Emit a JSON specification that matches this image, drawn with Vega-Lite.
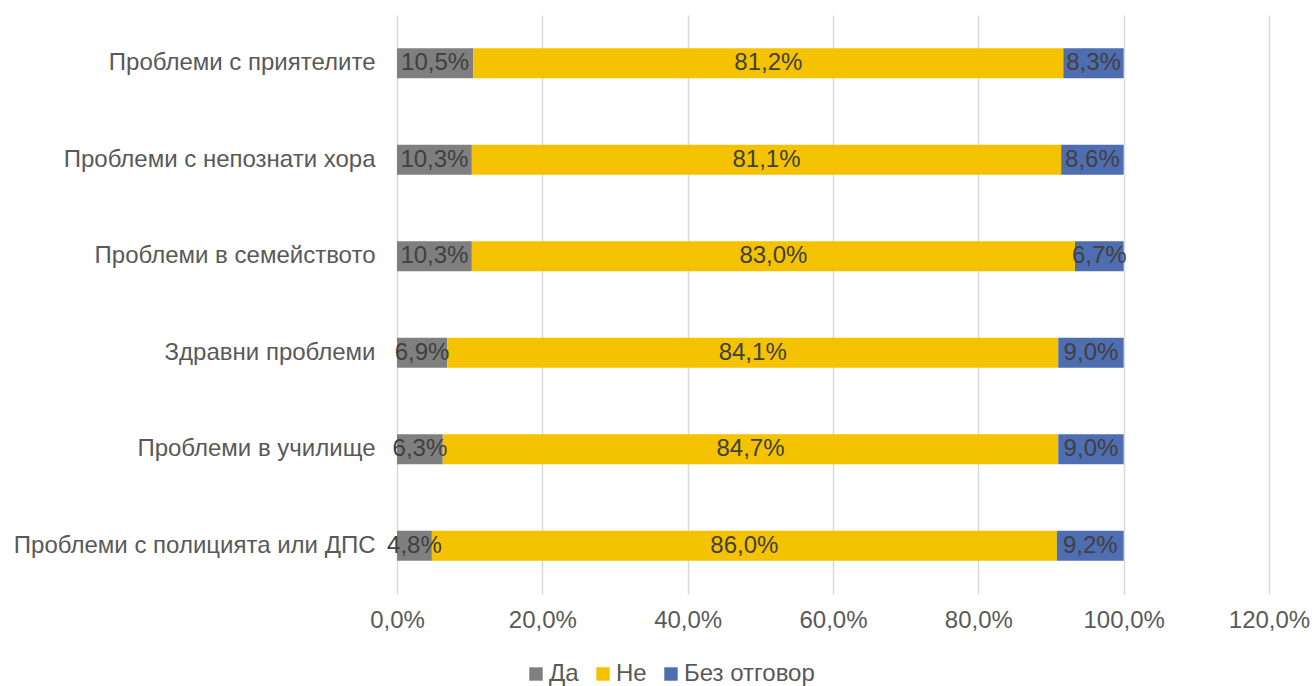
{
  "$schema": "https://vega.github.io/schema/vega-lite/v6.json",
  "width": 872,
  "height": 579,
  "autosize": {"type": "none"},
  "padding": {"left": 397, "top": 15, "right": 43, "bottom": 92},
  "background": "white",
  "config": {
    "locale": {"number": {"decimal": ",", "thousands": " ", "grouping": [3], "currency": ["", ""]}},
    "font": "Liberation Sans",
    "view": {"stroke": null}
  },
  "data": {
    "values": [
      {"cat": "Проблеми с приятелите", "answer": "Да", "v": 0.105},
      {"cat": "Проблеми с приятелите", "answer": "Не", "v": 0.812},
      {"cat": "Проблеми с приятелите", "answer": "Без отговор", "v": 0.083},
      {"cat": "Проблеми с непознати хора", "answer": "Да", "v": 0.103},
      {"cat": "Проблеми с непознати хора", "answer": "Не", "v": 0.811},
      {"cat": "Проблеми с непознати хора", "answer": "Без отговор", "v": 0.086},
      {"cat": "Проблеми в семейството", "answer": "Да", "v": 0.103},
      {"cat": "Проблеми в семейството", "answer": "Не", "v": 0.830},
      {"cat": "Проблеми в семейството", "answer": "Без отговор", "v": 0.067},
      {"cat": "Здравни проблеми", "answer": "Да", "v": 0.069},
      {"cat": "Здравни проблеми", "answer": "Не", "v": 0.841},
      {"cat": "Здравни проблеми", "answer": "Без отговор", "v": 0.090},
      {"cat": "Проблеми в училище", "answer": "Да", "v": 0.063},
      {"cat": "Проблеми в училище", "answer": "Не", "v": 0.847},
      {"cat": "Проблеми в училище", "answer": "Без отговор", "v": 0.090},
      {"cat": "Проблеми с полицията или ДПС", "answer": "Да", "v": 0.048},
      {"cat": "Проблеми с полицията или ДПС", "answer": "Не", "v": 0.860},
      {"cat": "Проблеми с полицията или ДПС", "answer": "Без отговор", "v": 0.092}
    ]
  },
  "transform": [
    {"calculate": "indexof(['Да','Не','Без отговор'], datum.answer)", "as": "ord"},
    {"stack": "v", "groupby": ["cat"], "sort": [{"field": "ord", "order": "ascending"}], "as": ["x0", "x1"]},
    {"calculate": "(datum.x0 + datum.x1) / 2", "as": "xm"}
  ],
  "encoding": {
    "y": {
      "field": "cat",
      "type": "nominal",
      "sort": ["Проблеми с приятелите", "Проблеми с непознати хора", "Проблеми в семейството", "Здравни проблеми", "Проблеми в училище", "Проблеми с полицията или ДПС"],
      "scale": {"paddingInner": 0.69, "paddingOuter": 0.345},
      "axis": {
        "title": null,
        "domain": false,
        "ticks": false,
        "labelFontSize": 24,
        "labelColor": "#595959",
        "labelPadding": 22,
        "labelLimit": 500,
        "grid": false
      }
    }
  },
  "layer": [
    {
      "mark": {"type": "bar"},
      "encoding": {
        "x": {
          "field": "x0",
          "type": "quantitative",
          "scale": {"domain": [0, 1.2], "nice": false},
          "axis": {
            "title": null,
            "format": ".1%",
            "values": [0, 0.2, 0.4, 0.6, 0.8, 1.0, 1.2],
            "domain": false,
            "ticks": false,
            "labelFlush": false,
            "labelOverlap": false,
            "labelFontSize": 24,
            "labelColor": "#595959",
            "labelPadding": 14,
            "gridColor": "#d9d9d9",
            "gridWidth": 1.5
          }
        },
        "x2": {"field": "x1"},
        "color": {
          "field": "answer",
          "type": "nominal",
          "scale": {"domain": ["Да", "Не", "Без отговор"], "range": ["#7f7f7f", "#f5c200", "#4f6eb2"]},
          "legend": {
            "title": null,
            "orient": "none",
            "direction": "horizontal",
            "legendX": 127,
            "legendY": 647,
            "symbolType": "square",
            "symbolSize": 180,
            "symbolStrokeWidth": 0,
            "labelFontSize": 24,
            "labelColor": "#595959",
            "labelOffset": 1,
            "columnPadding": 12
          }
        }
      }
    },
    {
      "mark": {"type": "text", "fontSize": 24, "color": "#404040", "align": "center", "baseline": "middle"},
      "encoding": {
        "x": {"field": "xm", "type": "quantitative"},
        "text": {"field": "v", "type": "quantitative", "format": ".1%"}
      }
    }
  ]
}
